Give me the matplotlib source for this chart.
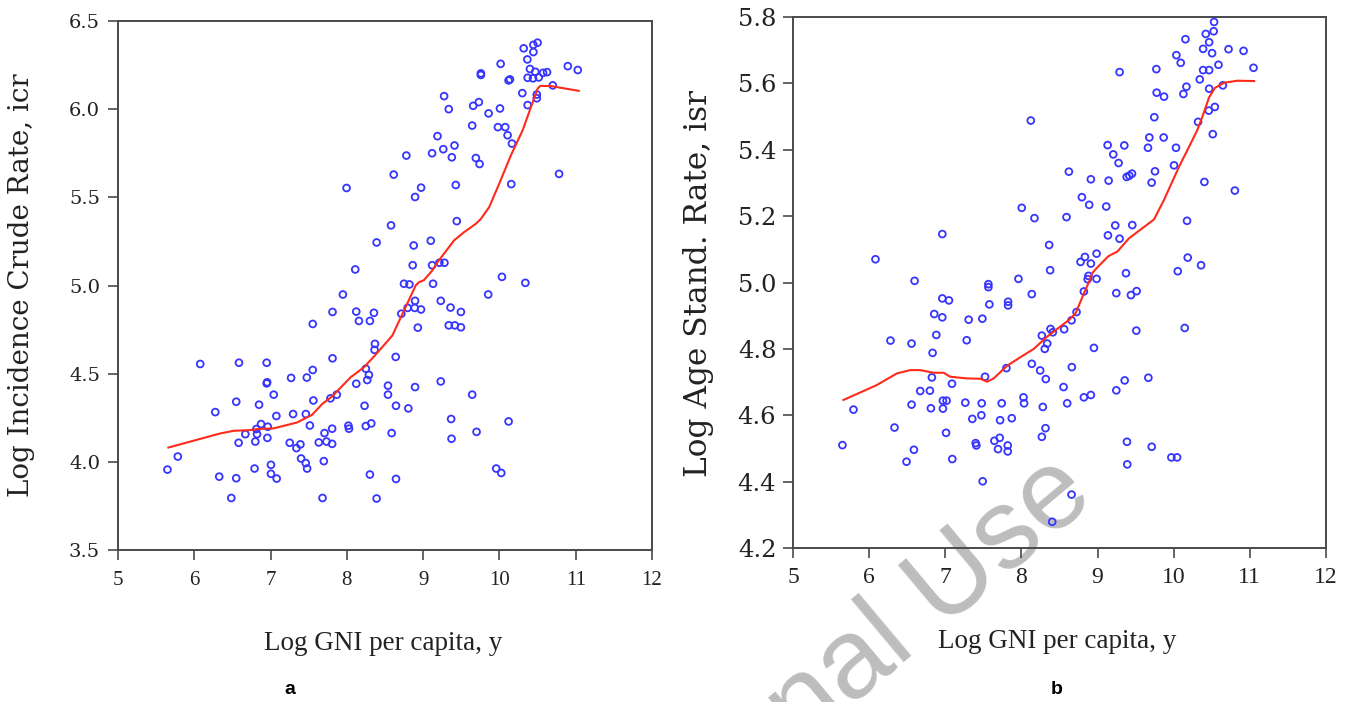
import matplotlib
matplotlib.use("Agg")
import matplotlib.pyplot as plt

# ---------------- data: panel a (Log incidence crude rate) ----------------
x_a = [10.50, 10.445, 10.318, 10.445, 10.366, 10.016, 10.896, 11.027, 10.40, 10.47,
       10.572, 10.624, 10.515, 10.37, 10.44, 9.757, 9.757, 10.138, 10.12, 10.699,
       10.30, 10.49, 10.49, 10.37, 9.275, 9.336, 9.656, 9.73, 9.858, 10.007,
       9.643, 9.98, 10.076, 10.107, 10.164, 9.188, 9.411, 9.264, 9.117, 8.78,
       9.376, 9.691, 9.74, 8.614, 10.782, 7.996, 8.973, 8.894, 9.428, 10.155,
       9.441, 8.579, 8.39, 8.876, 9.10, 8.11, 8.863, 9.117, 9.213, 9.279,
       10.033, 10.34, 9.13,
       8.749, 8.82, 9.853, 7.948, 9.231, 8.894, 9.359, 9.495, 7.812, 8.123,
       8.355, 8.714, 8.797, 8.889, 8.972, 8.158, 8.302, 7.553, 9.336, 9.415,
       9.495, 8.93, 8.368, 8.363, 7.812, 8.64, 6.078, 6.586, 6.949, 6.949,
       6.955, 7.553, 7.269, 7.475, 8.249, 8.289, 8.267, 8.123, 8.539, 8.539,
       8.894, 9.231, 9.643, 7.041, 6.55, 6.849, 7.561, 7.785, 7.868, 8.232,
       8.644, 8.806, 6.275, 7.076, 7.295, 7.462, 9.367, 10.12, 6.875, 6.814,
       6.963, 6.823, 6.669, 6.581, 6.8, 6.958, 7.515, 7.807, 7.707, 8.02,
       8.028, 8.248, 8.32, 8.587, 9.372, 9.70, 7.251, 7.391, 7.339, 7.632,
       7.733, 7.807, 5.784, 5.648, 6.327, 6.55, 6.79, 7.005, 7.005, 7.08,
       7.40, 7.461, 7.479, 7.698, 8.302, 8.644, 9.958, 10.024, 6.485, 7.681,
       8.39]
icr = [6.377, 6.365, 6.345, 6.324, 6.282, 6.257, 6.244, 6.222, 6.228, 6.212,
       6.206, 6.21, 6.18, 6.178, 6.175, 6.203, 6.194, 6.169, 6.163, 6.135,
       6.091, 6.083, 6.062, 6.023, 6.074, 6.0, 6.019, 6.04, 5.976, 6.004,
       5.907, 5.898, 5.898, 5.852, 5.805, 5.847, 5.794, 5.773, 5.75, 5.737,
       5.727, 5.723, 5.689, 5.629, 5.633, 5.553, 5.555, 5.502, 5.57, 5.575,
       5.365, 5.341, 5.244, 5.227, 5.254, 5.091, 5.115, 5.115, 5.129, 5.129,
       5.049, 5.015, 5.01,
       5.010, 5.006, 4.949, 4.949, 4.913, 4.913, 4.875, 4.85, 4.85, 4.852,
       4.845, 4.84, 4.873, 4.873, 4.864, 4.799, 4.799, 4.782, 4.774, 4.774,
       4.763, 4.761, 4.669, 4.635, 4.587, 4.595, 4.555, 4.562, 4.562, 4.445,
       4.451, 4.521, 4.476, 4.478, 4.528, 4.493, 4.464, 4.443, 4.432, 4.381,
       4.424, 4.456, 4.381, 4.381, 4.341, 4.324, 4.348, 4.36, 4.381, 4.318,
       4.318, 4.303, 4.282, 4.26, 4.271, 4.271, 4.243, 4.229, 4.214, 4.186,
       4.199, 4.157, 4.157, 4.108, 4.115, 4.136, 4.206, 4.188, 4.163, 4.205,
       4.188, 4.203, 4.218, 4.163, 4.131, 4.17, 4.108, 4.099, 4.078, 4.11,
       4.115, 4.102, 4.03, 3.956, 3.916, 3.907, 3.962, 3.983, 3.932, 3.905,
       4.019, 3.993, 3.962, 4.004, 3.928, 3.903, 3.962, 3.937, 3.795, 3.795,
       3.792]

smooth_a_x = [5.66, 6.34, 6.516, 6.735, 6.823, 7.041, 7.347, 7.545, 7.677, 7.807,
              8.048, 8.223, 8.355, 8.596, 8.749, 8.902, 8.946, 9.01, 9.12, 9.188,
              9.406, 9.538, 9.691, 9.757, 9.866, 9.998, 10.151, 10.305, 10.414,
              10.502, 10.537, 10.677, 10.808, 11.04]
smooth_a_y = [4.081, 4.161, 4.176, 4.18, 4.186, 4.19, 4.223, 4.267, 4.328, 4.371,
              4.479, 4.536, 4.597, 4.716, 4.858, 5.0, 5.019, 5.03, 5.085, 5.132,
              5.256, 5.303, 5.35, 5.378, 5.445, 5.578, 5.739, 5.881, 6.013,
              6.118, 6.132, 6.131, 6.121, 6.104]

# ---------------- data: panel b (Log age standardised rate) ----------------
x_b = [10.53, 10.525, 10.421, 10.465, 10.154, 10.386, 10.504, 10.72, 10.917, 10.035,
       10.092, 10.588, 11.048, 9.289, 9.772, 10.386, 10.465, 10.342, 10.167, 10.465,
       10.645, 9.776, 9.873, 10.127, 10.461, 10.54, 9.745, 10.32, 8.123, 10.513,
       9.68, 9.868, 9.662, 10.03, 9.132, 9.351, 9.206, 9.276, 10.004, 8.623,
       9.382, 9.417, 9.452, 9.754, 9.71, 8.912, 9.145, 10.403, 10.803, 8.794,
       8.89, 9.114, 8.004, 8.171, 8.592, 9.232, 9.456, 10.175, 9.136, 9.289,
       6.961, 8.364, 8.987, 8.834, 8.776, 8.912, 10.184, 10.359, 6.083, 6.597,
       8.377, 9.373, 10.053, 8.88, 8.87, 8.987, 7.566, 7.566, 7.961,
       9.246, 9.513, 9.438, 8.82, 8.136, 6.961, 7.048, 7.579, 7.825, 7.825,
       6.855, 6.961, 7.307, 7.487, 8.658, 8.724, 8.382, 8.412, 8.561, 8.268,
       8.338, 8.307, 9.509, 10.145, 8.952, 6.28, 6.557, 6.882, 7.281, 6.833,
       8.136, 8.246, 8.32, 8.662, 7.803, 7.522, 6.824, 7.088, 6.671, 6.798,
       6.969, 7.017, 7.263, 7.478, 7.741, 8.027, 8.035, 8.281, 8.553, 8.601,
       8.82, 8.912, 9.246, 9.356, 9.667, 6.557, 6.811, 6.969, 5.794, 6.333,
       7.01, 7.355, 7.474, 7.72, 7.873, 8.316, 8.268, 7.715, 7.645, 7.399,
       7.408, 7.693, 7.82, 7.82, 5.649, 6.588, 6.491, 7.092, 9.386, 9.711,
       9.969, 10.044, 9.39, 7.491, 8.658, 8.404]
isr = [5.785, 5.757, 5.749, 5.724, 5.733, 5.704, 5.691, 5.703, 5.698, 5.685,
       5.662, 5.656, 5.647, 5.634, 5.643, 5.64, 5.64, 5.612, 5.59, 5.584,
       5.594, 5.572, 5.56, 5.568, 5.518, 5.529, 5.498, 5.484, 5.488, 5.447,
       5.437, 5.437, 5.406, 5.406, 5.414, 5.413, 5.386, 5.36, 5.353, 5.334,
       5.318, 5.322, 5.328, 5.335, 5.301, 5.311, 5.307, 5.303, 5.277, 5.257,
       5.234, 5.229, 5.225, 5.194, 5.197, 5.172, 5.173, 5.186, 5.142, 5.132,
       5.146, 5.113, 5.087, 5.077, 5.062, 5.057, 5.075, 5.052, 5.07, 5.005,
       5.037, 5.028, 5.034, 5.02, 5.01, 5.011, 4.995, 4.986, 5.011,
       4.968, 4.974, 4.962, 4.973, 4.965, 4.952, 4.946, 4.934, 4.942, 4.931,
       4.905, 4.895, 4.888, 4.891, 4.886, 4.911, 4.86, 4.85, 4.859, 4.84,
       4.816, 4.8, 4.855, 4.863, 4.803, 4.825, 4.816, 4.842, 4.826, 4.788,
       4.755, 4.735, 4.709, 4.745, 4.742, 4.716, 4.714, 4.695, 4.673, 4.674,
       4.644, 4.644, 4.638, 4.636, 4.636, 4.654, 4.636, 4.625, 4.685, 4.636,
       4.654, 4.661, 4.675, 4.705, 4.713, 4.632, 4.621, 4.62, 4.617, 4.563,
       4.547, 4.589, 4.6, 4.585, 4.591, 4.561, 4.535, 4.532, 4.523, 4.516,
       4.509, 4.498, 4.509, 4.491, 4.51, 4.496, 4.46, 4.468, 4.52, 4.505,
       4.473, 4.473, 4.452, 4.401, 4.361, 4.279]

smooth_b_x = [5.662, 6.101, 6.364, 6.539, 6.671, 6.846, 6.978, 7.066, 7.285, 7.461,
              7.548, 7.636, 7.811, 7.987, 8.162, 8.338, 8.623, 8.711, 8.82, 8.899,
              8.93, 8.974, 9.136, 9.171, 9.259, 9.412, 9.741, 9.873, 10.07, 10.202,
              10.311, 10.377, 10.465, 10.54, 10.662, 10.838, 11.057]
smooth_b_y = [4.646, 4.691, 4.726, 4.736, 4.736, 4.728, 4.728, 4.716, 4.711, 4.71,
              4.701, 4.711, 4.749, 4.775, 4.8, 4.837, 4.887, 4.907, 4.967, 5.008,
              5.028, 5.04, 5.078, 5.083, 5.093, 5.133, 5.19, 5.249, 5.349, 5.409,
              5.46, 5.5, 5.558, 5.586, 5.602, 5.608, 5.607]

xticks = [5, 6, 7, 8, 9, 10, 11, 12]
yticks_a = [3.5, 4.0, 4.5, 5.0, 5.5, 6.0, 6.5]
yticks_b = [4.2, 4.4, 4.6, 4.8, 5.0, 5.2, 5.4, 5.6, 5.8]

xlabel = "Log GNI per capita, y"
ylabel_a = "Log Incidence Crude Rate, icr"
ylabel_b = "Log Age Stand. Rate, isr"
watermark = "nal Use"

# ---------------- figure ----------------
W, H = 1351, 702
fig = plt.figure(figsize=(W / 100, H / 100), dpi=100)
serif = "Liberation Serif"
wide_serif = "DejaVu Serif"
pt_blue = "#3535ff"
red = "#ff2a1a"
spine_c = "#4a4a4a"
txt_c = "#222222"


def px_rect(l, t, r, b):
    return [l / W, 1 - b / H, (r - l) / W, (b - t) / H]


def style(ax, xsize, ysize):
    ax.set_facecolor("none")
    for s in ax.spines.values():
        s.set_color(spine_c)
        s.set_linewidth(1.4)
    ax.tick_params(direction="out", length=7, width=1.2, color=spine_c,
                   labelcolor=txt_c, top=False, right=False)
    for lab in ax.get_xticklabels():
        lab.set_fontfamily(serif)
        lab.set_fontsize(xsize)
    for lab in ax.get_yticklabels():
        lab.set_fontfamily(wide_serif)
        lab.set_fontsize(ysize)


# panel a
axa = fig.add_axes(px_rect(118, 21, 652, 550))
axa.scatter(x_a, icr, s=24, facecolors="none", edgecolors=pt_blue, linewidths=1.3, zorder=3)
axa.plot(smooth_a_x, smooth_a_y, color=red, lw=1.5, zorder=4)
axa.set_xlim(5, 12)
axa.set_ylim(3.5, 6.5)
axa.set_xticks(xticks)
axa.set_xticklabels([str(v) for v in xticks])
axa.set_yticks(yticks_a)
axa.set_yticklabels([f"{v:.1f}" for v in yticks_a])
style(axa, 15, 14)
axa.tick_params(axis="x", pad=8)
axa.tick_params(axis="y", pad=6)

# panel b
axb = fig.add_axes(px_rect(793, 17, 1326, 548))
axb.scatter(x_b, isr, s=24, facecolors="none", edgecolors=pt_blue, linewidths=1.3, zorder=3)
axb.plot(smooth_b_x, smooth_b_y, color=red, lw=1.5, zorder=4)
axb.set_xlim(5, 12)
axb.set_ylim(4.2, 5.8)
axb.set_xticks(xticks)
axb.set_xticklabels([str(v) for v in xticks])
axb.set_yticks(yticks_b)
axb.set_yticklabels([f"{v:.1f}" for v in yticks_b])
style(axb, 17, 17.5)
axb.tick_params(axis="x", pad=7)
axb.tick_params(axis="y", pad=5)


def ftext(x, y, s, **kw):
    return fig.text(x / W, 1 - y / H, s, **kw)


ftext(383, 643, xlabel, ha="center", va="center", fontsize=19.5, family=serif, color=txt_c)
ftext(1057, 641, xlabel, ha="center", va="center", fontsize=19.5, family=serif, color=txt_c)
ftext(22, 285, ylabel_a, ha="center", va="center", rotation=90, fontsize=20, family=wide_serif, color=txt_c)
ftext(699, 283, ylabel_b, ha="center", va="center", rotation=90, fontsize=22.5, family=wide_serif, color=txt_c)

ftext(290, 690, "a", ha="center", va="center", fontsize=14, fontweight="bold", family="Liberation Sans")
ftext(1057, 690, "b", ha="center", va="center", fontsize=14, fontweight="bold", family="Liberation Sans")

# watermark (partly clipped at the bottom edge, as in the reference)
ftext(1097, 500, watermark, ha="right", va="baseline", rotation=40, rotation_mode="anchor",
      fontsize=82, family="Liberation Sans", color="#bdbdbd", zorder=-1)

fig.savefig("out.png", dpi=100, facecolor="white")
